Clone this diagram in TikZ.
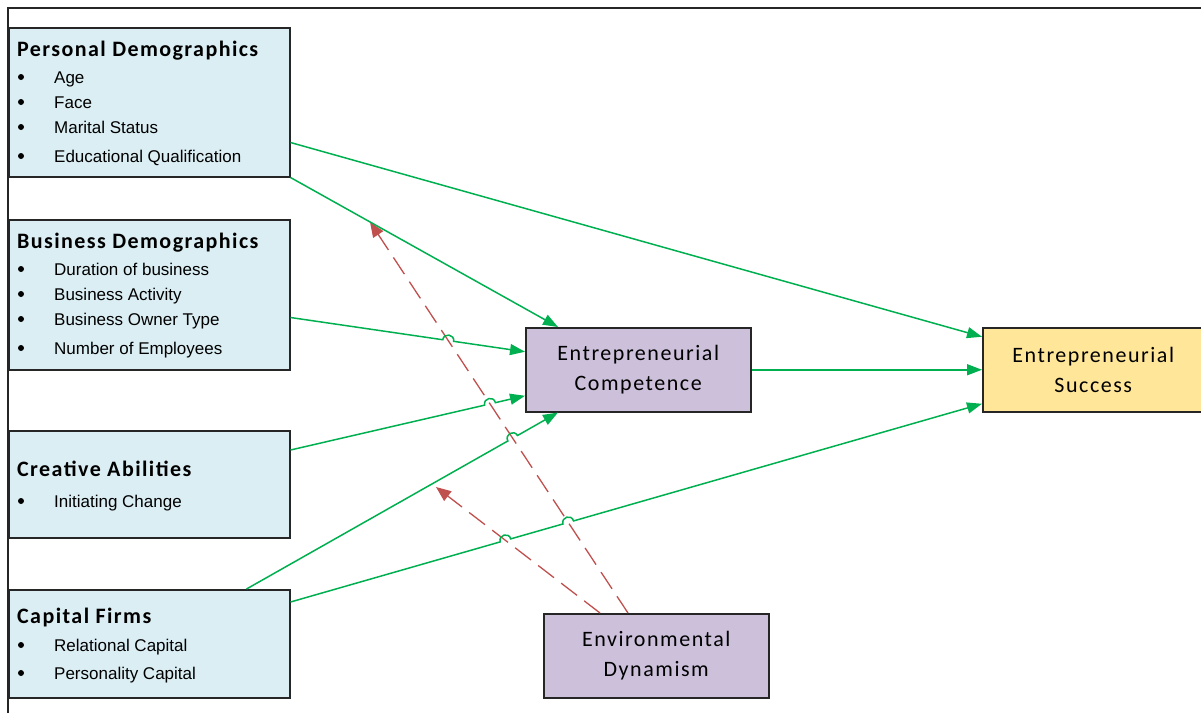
\documentclass[tikz,border=0pt]{standalone}
\usepackage{fontspec}
\setmainfont{Carlito}
\newfontfamily\arialf{Liberation Sans}
\newfontfamily\titlefont[LetterSpace=6.5]{Carlito}
\newfontfamily\boxfont[LetterSpace=7]{Carlito}
\usetikzlibrary{arrows.meta,calc}
\definecolor{boxblue}{HTML}{DAEEF3}
\definecolor{boxpurple}{HTML}{CCC0DA}
\definecolor{boxyellow}{HTML}{FFE699}
\definecolor{linegreen}{HTML}{00B050}
\definecolor{linered}{HTML}{C0504D}
\definecolor{edgecol}{HTML}{262626}
\newcommand\mkhop[4]{%
  \coordinate (#1a) at ($(#2)!5.5pt!(#3)$);
  \coordinate (#1b) at ($(#2)!5.5pt!(#4)$);
  \coordinate (#1c) at ($(#1a)!7.3pt!90:(#2)$);
  \coordinate (#1d) at ($(#1b)!7.3pt!-90:(#2)$);}
\begin{document}
\begin{tikzpicture}[x=1pt,y=-1pt,
  frameline/.style={draw=edgecol,line width=1.5pt},
  box/.style={draw=edgecol,line width=1.5pt,inner sep=0pt,anchor=north west},
  listbox/.style={box,fill=boxblue,minimum width=281pt},
  midbox/.style={box,fill=boxpurple,minimum width=225pt,minimum height=84pt,align=center,
    font=\boxfont\fontsize{22}{30}\selectfont},
  ttl/.style={anchor=base west,inner sep=0pt,font=\titlefont\bfseries\fontsize{22}{26}\selectfont},
  item/.style={anchor=base west,inner sep=0pt,font=\arialf\fontsize{17}{20}\selectfont},
  bul/.style={circle,fill=black,inner sep=0pt,minimum size=6pt,yshift=6pt},
  gline/.style={draw=linegreen,line width=1.5pt,-{Triangle[length=15pt,width=11pt]}},
  rline/.style={draw=linered,line width=1.3pt,dash pattern=on 20pt off 9pt,-{Triangle[length=15pt,width=12pt]}}]
\useasboundingbox (0,0) rectangle (1201,713);
\draw[frameline] (8,713) -- (8,8) -- (1201,8);

% left boxes
\node[listbox,minimum height=149pt] (pd) at (8,27) {};
\node[listbox,minimum height=150pt] (bd) at (8,219) {};
\node[listbox,minimum height=107pt] (ca) at (8,430) {};
\node[listbox,minimum height=108pt] (cf) at (8,589) {};

\node[ttl] (pdt) at (17,56) {Personal Demographics};
\foreach \t/\y [count=\i] in {Age/83,Face/108,Marital Status/133,Educational Qualification/162}{
  \node[bul] (pdb\i) at (21,\y) {};
  \node[item] (pdi\i) at (54,\y) {\t};}

\node[ttl] (bdt) at (17,248) {Business Demographics};
\foreach \t/\y [count=\i] in {Duration of business/275,Business Activity/300,Business Owner Type/325,Number of Employees/354}{
  \node[bul] (bdb\i) at (21,\y) {};
  \node[item] (bdi\i) at (54,\y) {\t};}

\node[ttl] (cat) at (17,476) {Creative Abilities};
\node[bul] (cab1) at (21,507) {};
\node[item] (cai1) at (54,507) {Initiating Change};

\node[ttl] (cft) at (17,623) {Capital Firms};
\foreach \t/\y [count=\i] in {Relational Capital/651,Personality Capital/679}{
  \node[bul] (cfb\i) at (21,\y) {};
  \node[item] (cfi\i) at (54,\y) {\t};}

% middle and right boxes
\node[midbox] (comp) at (525,327) {Entrepreneurial\\Competence};
\node[midbox,fill=boxyellow,minimum width=221pt] (succ) at (982,327) {Entrepreneurial\\Success};
\node[midbox] (env) at (543,613) {Environmental\\Dynamism};

% end points
\coordinate (s1) at ([yshift=35pt]pd.south east);
\coordinate (e1) at ([yshift=33pt]succ.west);
\coordinate (s2) at (pd.south east);
\coordinate (e2) at ([xshift=33pt]comp.north west);
\coordinate (s3) at ([yshift=53pt]bd.south east);
\coordinate (e3) at ([yshift=18pt]comp.west);
\coordinate (s4) at ([yshift=-20pt]ca.north east);
\coordinate (e4) at ([yshift=-26pt]comp.west);
\coordinate (s5) at ([xshift=-44pt]cf.north east);
\coordinate (e5) at ([xshift=33pt]comp.south west);
\coordinate (s6) at ([yshift=-13pt]cf.north east);
\coordinate (e6) at ([yshift=-34pt]succ.west);
\coordinate (ra) at ([xshift=85pt]env.north west);
\coordinate (ta) at (370,222);
\coordinate (rb) at ([xshift=57pt]env.north west);
\coordinate (tb) at (436,487);

% crossings
\coordinate (x3) at (intersection of s3--e3 and ra--ta);
\coordinate (x4) at (intersection of s4--e4 and ra--ta);
\coordinate (x5) at (intersection of s5--e5 and ra--ta);
\coordinate (x6) at (intersection of s6--e6 and rb--tb);
\coordinate (x7) at (intersection of s6--e6 and ra--ta);
\mkhop{h3}{x3}{s3}{e3}
\mkhop{h4}{x4}{s4}{e4}
\mkhop{h5}{x5}{s5}{e5}
\mkhop{h6}{x6}{s6}{e6}
\mkhop{h7}{x7}{s6}{e6}

% red dashed
\draw[rline] (ra) -- (ta);
\draw[rline] (rb) -- (tb);

% green
\draw[gline] (s1) -- (e1);
\draw[gline] (s2) -- (e2);
\draw[gline] (s3) -- (h3a) .. controls (h3c) and (h3d) .. (h3b) -- (e3);
\draw[gline] (s4) -- (h4a) .. controls (h4c) and (h4d) .. (h4b) -- (e4);
\draw[gline] (s5) -- (h5a) .. controls (h5c) and (h5d) .. (h5b) -- (e5);
\draw[gline] (s6) -- (h6a) .. controls (h6c) and (h6d) .. (h6b) -- (h7a) .. controls (h7c) and (h7d) .. (h7b) -- (e6);
\draw[gline] (comp.east) -- (succ.west);
\end{tikzpicture}
\end{document}
